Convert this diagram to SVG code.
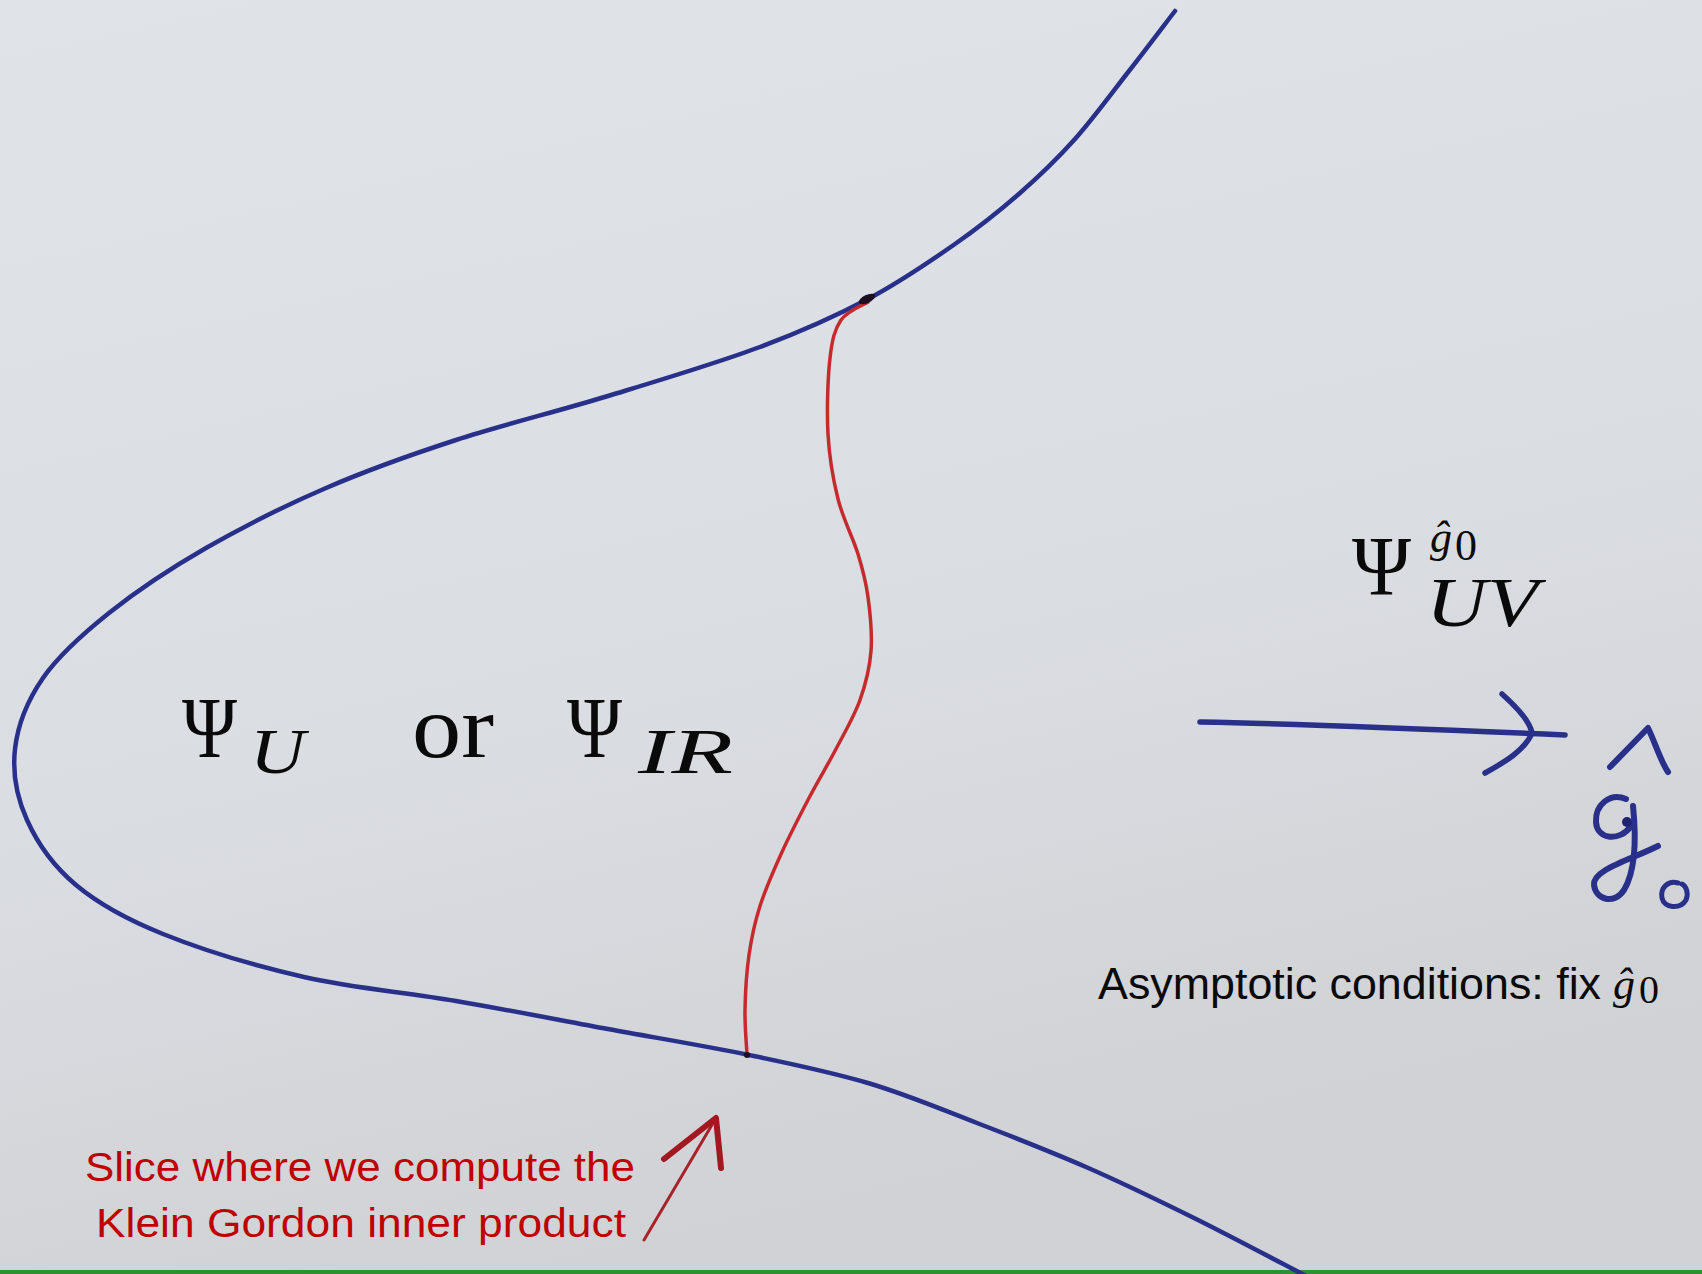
<svg xmlns="http://www.w3.org/2000/svg" width="1702" height="1274" viewBox="0 0 1702 1274">
<defs>
<linearGradient id="paper" x1="0" y1="0" x2="0.3" y2="1">
<stop offset="0" stop-color="#e0e4e9"/>
<stop offset="0.6" stop-color="#dadde2"/>
<stop offset="1" stop-color="#d0d2d5"/>
</linearGradient>
<style>
.blue{fill:none;stroke:#29308a;stroke-linecap:round;stroke-linejoin:round}
.red{fill:none;stroke:#c62a2c;stroke-linecap:round;stroke-linejoin:round}
.math{font-family:"Liberation Serif","DejaVu Serif",serif;fill:#0a0a0a}
.it{font-style:italic}
.sans{font-family:"Liberation Sans","Noto Sans",sans-serif}
</style>
</defs>
<rect id="background" x="0" y="0" width="1702" height="1274" fill="url(#paper)"/>
<rect id="bottom-edge" x="0" y="1270" width="1702" height="4" fill="#2f8f35"/>

<g id="boundary-curve">
<path class="blue" stroke-width="4.5" d="M1175,11 C1167.3,21 1145.7,49.7 1129,71 C1112.3,92.3 1093.2,118.7 1075,139 C1056.8,159.3 1040,175.5 1020,193 C1000,210.5 980.3,226.3 955,244 C929.7,261.7 900.5,281.8 868,299 C835.5,316.2 803.3,330.8 760,347 C716.7,363.2 658.7,380.5 608,396 C557.3,411.5 503,424.7 456,440 C409,455.3 367.7,470 326,488 C284.3,506 242.2,527.2 206,548 C169.8,568.8 136.2,591.3 109,613 C81.8,634.7 58.7,655.3 43,678 C27.3,700.7 17.7,725.3 15,749 C12.3,772.7 16.8,797.3 27,820 C37.2,842.7 53.3,866 76,885 C98.7,904 125,918.7 163,934 C201,949.3 255.2,965.8 304,977 C352.8,988.2 405.3,992.3 456,1001 C506.7,1009.7 559.2,1020 608,1029 C656.8,1038 705.7,1046 749,1055 C792.3,1064 830,1071.7 868,1083 C906,1094.3 940.7,1109 977,1123 C1013.3,1137 1049.8,1151.2 1086,1167 C1122.2,1182.8 1157,1199.7 1194,1218 C1231,1236.3 1289,1267.2 1308,1277"/>
</g>

<g id="slice-curve">
<path class="red" stroke-width="3.5" d="M868,302 C863.5,305 847.3,310.7 841,320 C834.7,329.3 832.2,339 830,358 C827.8,377 826.7,410.5 828,434 C829.3,457.5 833,479 838,499 C843,519 853,537.7 858,554 C863,570.3 865.8,580.8 868,597 C870.2,613.2 872.3,633.8 871,651 C869.7,668.2 865.8,683.7 860,700 C854.2,716.3 844.5,732.7 836,749 C827.5,765.3 818,780.8 809,798 C800,815.2 790.2,834 782,852 C773.8,870 765.5,888.8 760,906 C754.5,923.2 751.5,937.7 749,955 C746.5,972.3 745.3,993.3 745,1010 C744.7,1026.7 746.7,1047.5 747,1055"/>
<ellipse cx="867" cy="299" rx="9" ry="4" transform="rotate(-25 867 299)" fill="#1b1020"/>
<circle cx="747" cy="1055" r="3" fill="#1b1020"/>
</g>

<g id="label-psi-u-ir">
<text class="math" x="182" y="757" font-size="86" textLength="55" lengthAdjust="spacingAndGlyphs">Ψ</text>
<text class="math it" x="250" y="773" font-size="64" textLength="55" lengthAdjust="spacingAndGlyphs">U</text>
<text class="math" x="412" y="757" font-size="88" textLength="82" lengthAdjust="spacingAndGlyphs">or</text>
<text class="math" x="567" y="757" font-size="86" textLength="55" lengthAdjust="spacingAndGlyphs">Ψ</text>
<text class="math it" x="638" y="773" font-size="64" textLength="95" lengthAdjust="spacingAndGlyphs">IR</text>
</g>

<g id="label-psi-uv">
<text class="math"><tspan x="1352" y="595" font-size="84" textLength="59" lengthAdjust="spacingAndGlyphs">Ψ</tspan><tspan x="1430" y="552" font-size="44" font-style="italic">ĝ</tspan><tspan x="1455" y="560" font-size="44">0</tspan><tspan x="1426" y="626" font-size="70" font-style="italic" textLength="112" lengthAdjust="spacingAndGlyphs">UV</tspan></text>
</g>

<g id="connectors">
<g id="flow-arrow">
<path class="blue" stroke-width="5.5" d="M1200,722 C1300,724 1450,730 1565,735"/>
<path class="blue" stroke-width="5.5" d="M1502,694 C1520,710 1530,722 1532,733 C1525,750 1505,762 1485,773"/>
</g>
<g id="slice-arrow">
<path fill="none" stroke="#a8222a" stroke-width="3" stroke-linecap="round" d="M644,1240 L716,1118"/>
<path fill="none" stroke="#a31820" stroke-width="6" stroke-linecap="round" stroke-linejoin="round" d="M664,1159 L716,1118 L721,1168"/>
</g>
</g>

<g id="handwritten-g0">
<path class="blue" stroke-width="6" d="M1610,767 L1648,728 C1655,742 1660,760 1668,772"/>
<path class="blue" stroke-width="6" d="M1626,799 C1610,792 1595,805 1596,822 C1597,840 1620,842 1631,826"/>
<path class="blue" stroke-width="6" d="M1633,806 C1636,835 1636,870 1624,890 C1614,905 1596,900 1594,885 C1592,870 1630,860 1658,846"/>
<circle cx="1627" cy="822" r="5" fill="#1f2470"/>
<path class="blue" stroke-width="5" d="M1678,883 C1668,880 1660,888 1662,898 C1664,908 1680,910 1686,900 C1689,893 1686,886 1682,884"/>
</g>

<g id="label-asymptotic">
<text class="sans" x="1098" y="999" font-size="44" fill="#0a0a0a" textLength="503" lengthAdjust="spacingAndGlyphs">Asymptotic conditions: fix</text>
<text class="math it" x="1613" y="999" font-size="44">ĝ</text>
<text class="math" x="1639" y="1003" font-size="40">0</text>
</g>

<g id="label-slice">
<text class="sans" x="85" y="1181" font-size="40" fill="#c00000" textLength="550" lengthAdjust="spacingAndGlyphs">Slice where we compute the</text>
<text class="sans" x="96" y="1237" font-size="40" fill="#c00000" textLength="530" lengthAdjust="spacingAndGlyphs">Klein Gordon inner product</text>
</g>
</svg>
